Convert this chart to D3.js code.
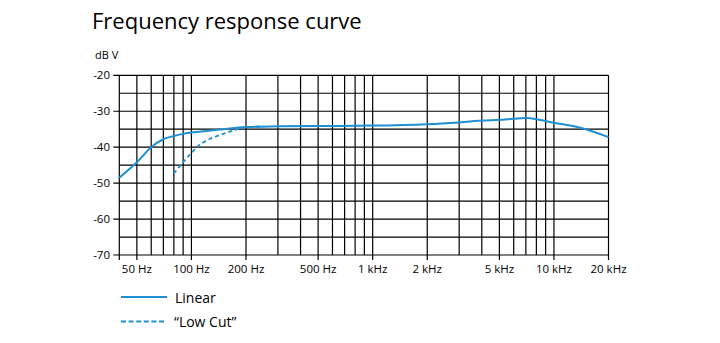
<!DOCTYPE html>
<html>
<head>
<meta charset="utf-8">
<script src="https://cdn.jsdelivr.net/npm/d3@7"></script>
<style>
  body { margin: 0; background: #fff; }
  text { font-family: "Open Sans", sans-serif; fill: #000; }
</style>
</head>
<body>
<script>
// values (Hz, dB V)
var linearFreq = [40, 50, 60, 70, 80, 90, 100, 125, 150, 200, 300, 500, 1000, 2000, 3000, 4000, 5000, 6000, 7000, 8000, 10000, 14000, 20000];
var linearDb   = [-48.5, -44.2, -40.0, -37.8, -36.9, -36.3, -35.9, -35.4, -35.0, -34.4, -34.2, -34.1, -34.0, -33.6, -33.1, -32.6, -32.4, -32.1, -31.9, -32.2, -33.2, -34.6, -37.2];
var lowCutFreq = [80, 90, 100, 110, 125, 150, 180, 200, 250];
var lowCutDb   = [-47.3, -44.2, -41.6, -39.5, -37.8, -36.3, -35.0, -34.5, -34.2];

var gridFreq = [50, 60, 70, 80, 90, 100, 200, 300, 400, 500, 600, 700, 800, 900,
                1000, 2000, 3000, 4000, 5000, 6000, 7000, 8000, 9000, 10000, 20000];
var tickFreq = [50, 100, 200, 500, 1000, 2000, 5000, 10000, 20000];
var tickLabels = ["50 Hz", "100 Hz", "200 Hz", "500 Hz", "1 kHz", "2 kHz", "5 kHz", "10 kHz", "20 kHz"];
var gridDb = [-20, -25, -30, -35, -40, -45, -50, -55, -60, -65, -70];
var labelDb = [-20, -30, -40, -50, -60, -70];

var w = 720, h = 343;
var pLeft = 119.3, pRight = 608.5, pTop = 75.3, pBottom = 255;
var blue = "#1f8fd3";

var svg = d3.select("body").append("svg")
            .attr("width", w)
            .attr("height", h);

var x = d3.scaleLog().domain([40, 20000]).range([pLeft, pRight]);
var y = d3.scaleLinear().domain([-70, -20]).range([pBottom, pTop]);

// title
svg.append("text")
   .attr("x", 92).attr("y", 29)
   .style("font-size", "22px")
   .text("Frequency response curve");

svg.append("text")
   .attr("x", 95).attr("y", 59)
   .style("font-size", "11px")
   .text("dB V");

// grid
var grid = svg.append("g").attr("stroke", "#000").attr("stroke-width", 1.2);

grid.selectAll("line.h").data(gridDb).enter().append("line")
    .attr("x1", function (d) { return labelDb.indexOf(d) >= 0 ? pLeft - 6 : pLeft; })
    .attr("x2", pRight)
    .attr("y1", function (d) { return y(d); })
    .attr("y2", function (d) { return y(d); });

grid.selectAll("line.v").data([40].concat(gridFreq)).enter().append("line")
    .attr("x1", function (d) { return x(d); })
    .attr("x2", function (d) { return x(d); })
    .attr("y1", pTop)
    .attr("y2", function (d) { return (d === 40 || tickFreq.indexOf(d) >= 0) ? pBottom + 5 : pBottom; });

// y labels
svg.selectAll("text.yl").data(labelDb).enter().append("text")
   .attr("x", 110)
   .attr("y", function (d) { return y(d) + 4; })
   .attr("text-anchor", "end")
   .style("font-size", "11.5px")
   .text(function (d) { return d; });

// x labels
svg.selectAll("text.xl").data(tickFreq).enter().append("text")
   .attr("x", function (d) { return x(d); })
   .attr("y", 273)
   .attr("text-anchor", "middle")
   .style("font-size", "11.5px")
   .text(function (d, i) { return tickLabels[i]; });

// curves
var line = d3.line()
  .x(function (d) { return x(d[0]); })
  .y(function (d) { return y(d[1]); })
  .curve(d3.curveCatmullRom.alpha(0.5));

svg.append("path")
   .datum(d3.zip(lowCutFreq, lowCutDb))
   .attr("d", line)
   .attr("fill", "none")
   .attr("stroke", blue)
   .attr("stroke-width", 1.8)
   .attr("stroke-dasharray", "4,3");

svg.append("path")
   .datum(d3.zip(linearFreq, linearDb))
   .attr("d", line)
   .attr("fill", "none")
   .attr("stroke", blue)
   .attr("stroke-width", 2);

// legend
svg.append("line")
   .attr("x1", 121).attr("x2", 167)
   .attr("y1", 297).attr("y2", 297)
   .attr("stroke", blue).attr("stroke-width", 2);
svg.append("text")
   .attr("x", 175).attr("y", 303)
   .style("font-size", "14px")
   .text("Linear");

svg.append("line")
   .attr("x1", 121).attr("x2", 164)
   .attr("y1", 321.5).attr("y2", 321.5)
   .attr("stroke", blue).attr("stroke-width", 2)
   .attr("stroke-dasharray", "5,2.6");
svg.append("text")
   .attr("x", 174).attr("y", 327)
   .style("font-size", "14px")
   .text("\u201CLow Cut\u201D");
</script>
</body>
</html>
